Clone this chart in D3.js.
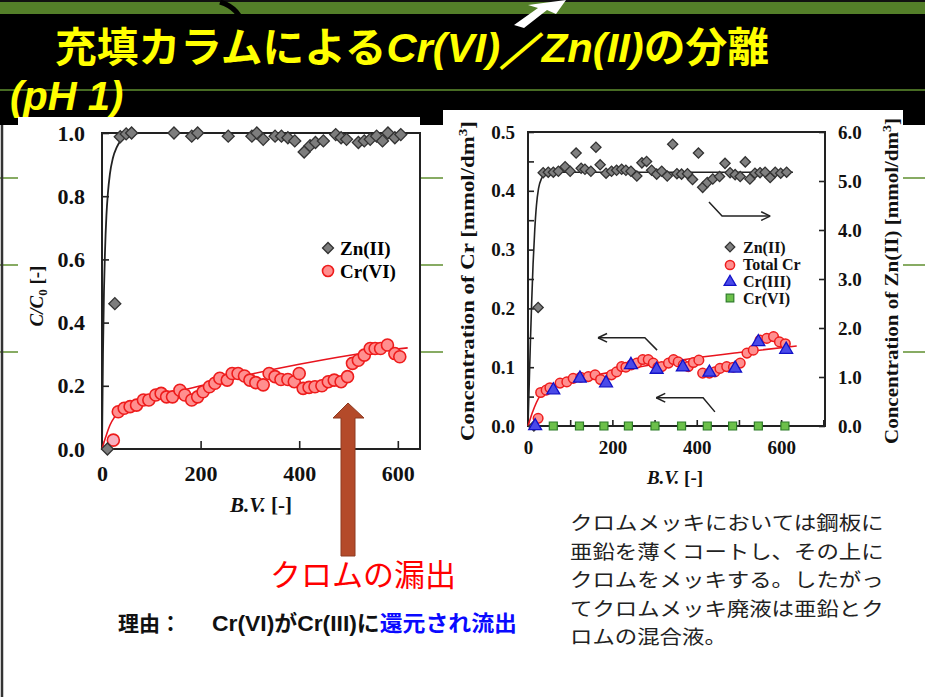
<!DOCTYPE html>
<html><head><meta charset="utf-8">
<script src="https://cdn.jsdelivr.net/npm/d3@7"></script>
<style>body{margin:0;background:#fff;}svg{display:block;}</style>
</head><body>
<script>
// ---------- Data ----------
// Left chart: C/C0 vs B.V.
const leftZnBV = [11, 26, 37, 49, 60, 146, 182, 194, 256, 304, 314, 327, 351, 364, 377, 391, 410, 422, 433, 449, 474, 485, 496, 520, 532, 544, 557, 569, 580, 594, 606];
const leftZnC  = [0, 0.46, 0.988, 0.997, 1.0, 1.0, 0.99, 1.0, 0.99, 0.99, 1.0, 0.98, 0.99, 0.99, 0.985, 0.975, 0.94, 0.96, 0.97, 0.975, 0.995, 0.985, 0.98, 0.97, 0.975, 0.98, 0.99, 0.975, 1.0, 0.985, 0.995];
const leftCrBV = [23, 33, 45, 57, 70, 84, 95, 109, 120, 131, 143, 158, 168, 182, 194, 205, 218, 229, 239, 254, 264, 276, 289, 300, 312, 327, 339, 351, 363, 377, 390, 400, 408, 420, 432, 446, 459, 471, 485, 498, 508, 520, 532, 544, 554, 565, 579, 594, 604];
const leftCrC  = [0.028, 0.118, 0.129, 0.134, 0.139, 0.155, 0.155, 0.171, 0.176, 0.165, 0.165, 0.186, 0.171, 0.155, 0.165, 0.181, 0.197, 0.208, 0.224, 0.218, 0.239, 0.239, 0.231, 0.218, 0.21, 0.203, 0.239, 0.229, 0.22, 0.22, 0.213, 0.239, 0.192, 0.195, 0.197, 0.2, 0.213, 0.218, 0.213, 0.229, 0.271, 0.281, 0.297, 0.318, 0.318, 0.318, 0.329, 0.302, 0.292];
const leftZnFit = [[0,0],[2,0.3],[4,0.5],[6,0.62],[9,0.74],[12,0.81],[16,0.87],[22,0.92],[30,0.955],[40,0.98],[55,0.995],[75,1.0],[645,1.0]];
const leftCrFit = [[0,0],[8,0.04],[16,0.075],[25,0.1],[35,0.118],[60,0.138],[100,0.158],[200,0.2],[300,0.236],[400,0.268],[500,0.296],[560,0.31],[620,0.32]];
const leftYTicks = [0, 0.2, 0.4, 0.6, 0.8, 1.0];
const leftXTicks = [0, 200, 400, 600];

// Right chart: concentrations vs B.V.
const rightZnBV = [14, 24, 36, 48, 60, 72, 88, 100, 114, 126, 135, 149, 161, 171, 185, 198, 210, 222, 232, 244, 258, 270, 281, 293, 305, 317, 330, 343, 353, 364, 378, 390, 404, 414, 425, 438, 454, 467, 479, 491, 503, 515, 526, 538, 550, 562, 574, 586, 599, 613];
const rightZnV  = [0, 2.42, 5.17, 5.18, 5.18, 5.2, 5.29, 5.2, 5.57, 5.26, 5.24, 5.2, 5.69, 5.33, 5.16, 5.2, 5.22, 5.24, 5.22, 5.2, 5.1, 5.37, 5.4, 5.22, 5.14, 5.2, 5.1, 5.75, 5.15, 5.14, 5.15, 5.03, 5.57, 4.87, 4.97, 5.04, 5.09, 5.36, 5.17, 5.13, 5.09, 5.39, 5.04, 5.16, 5.17, 5.18, 5.07, 5.18, 5.16, 5.18];
const rightTotBV = [24, 30, 43, 52, 76, 92, 107, 125, 143, 159, 172, 198, 210, 222, 232, 245, 258, 272, 285, 297, 308, 317, 333, 345, 356, 368, 380, 392, 405, 414, 430, 443, 455, 471, 487, 503, 519, 534, 550, 566, 582, 596, 610];
const rightTotV  = [0.013, 0.057, 0.061, 0.065, 0.073, 0.075, 0.081, 0.083, 0.084, 0.087, 0.079, 0.087, 0.092, 0.101, 0.1, 0.104, 0.107, 0.113, 0.113, 0.107, 0.1, 0.101, 0.107, 0.113, 0.109, 0.104, 0.101, 0.108, 0.112, 0.09, 0.09, 0.092, 0.098, 0.101, 0.1, 0.107, 0.124, 0.129, 0.146, 0.149, 0.152, 0.143, 0.14];
const rightCr3BV = [17, 60, 123, 185, 244, 305, 367, 430, 491, 546, 612];
const rightCr3V  = [0, 0.061, 0.081, 0.073, 0.104, 0.096, 0.1, 0.091, 0.098, 0.143, 0.13];
const rightCr6BV = [60, 122, 180, 238, 301, 364, 425, 485, 546, 609];
const rightCr6V  = [0, 0, 0, 0, 0, 0, 0, 0, 0, 0];
const rightZnFit = [[0,0],[3,0.9],[6,1.8],[9,2.6],[12,3.3],[16,4.0],[20,4.5],[25,4.85],[32,5.05],[42,5.15],[60,5.18],[628,5.18]];
const rightTotFit = [[0,0],[10,0.022],[20,0.04],[30,0.053],[45,0.063],[70,0.071],[100,0.077],[200,0.092],[300,0.105],[400,0.116],[500,0.125],[637,0.136]];
const rightLTicks = [0, 0.05, 0.1, 0.15, 0.2, 0.25, 0.3, 0.35, 0.4, 0.45, 0.5];
const rightRTicks = [0, 1, 2, 3, 4, 5, 6];
const rightXTicks = [0, 100, 200, 300, 400, 500, 600, 700];
const rightXLabels = [0, 200, 400, 600];
// annotation arrows (B.V., Cr conc.)
const arrowZn  = [[429,0.381],[460,0.357],[574,0.357]];
const arrowTot = [[306,0.129],[277,0.15],[166,0.15]];
const arrowCr6 = [[443,0.024],[415,0.048],[304,0.048]];

const bodyLines = ["クロムメッキにおいては鋼板に","亜鉛を薄くコートし、その上に","クロムをメッキする。したがっ","てクロムメッキ廃液は亜鉛とク","ロムの混合液。"];

// ---------- Drawing ----------
const W = 925, H = 697;
const svg = d3.select("body").append("svg").attr("width", W).attr("height", H);
const serif = "'Liberation Serif','Times New Roman',serif";
const jp = "'Noto Sans CJK JP','Noto Sans',sans-serif";

// slide background
svg.append("rect").attr("width", W).attr("height", H).attr("fill", "#fff");
svg.append("rect").attr("x", 0).attr("y", 12).attr("width", W).attr("height", 113).attr("fill", "#000");
svg.append("rect").attr("x", 0).attr("y", 0).attr("width", W).attr("height", 14).attr("fill", "#547f29");
svg.append("rect").attr("x", 0).attr("y", 0).attr("width", W).attr("height", 2).attr("fill", "#111");
svg.append("path").attr("d", "M220,2 Q240,8 243,27").attr("fill", "none").attr("stroke", "#000").attr("stroke-width", 5);
svg.append("path").attr("d", "M514,25 L538,8 L528,5 L566,0 L556,14 L547,10 L524,28 Z").attr("fill", "#fff");
// green rule lines
[90, 178, 265, 352].forEach(y => {
  svg.append("line").attr("x1", 0).attr("x2", W).attr("y1", y).attr("y2", y)
    .attr("stroke", "#5f8f2f").attr("stroke-width", 1.5);
});
svg.append("line").attr("x1", 2).attr("x2", 2).attr("y1", 125).attr("y2", H).attr("stroke", "#333").attr("stroke-width", 2.5);

// title
const t1 = svg.append("text").attr("x", 55).attr("y", 62).attr("fill", "#ffff00")
  .attr("font-family", jp).attr("font-weight", "bold").attr("font-size", 41)
  .attr("textLength", 714).attr("lengthAdjust", "spacingAndGlyphs");
t1.append("tspan").text("充填カラムによる");
t1.append("tspan").attr("font-style", "italic").attr("font-family", "'Liberation Sans',Arial,sans-serif").text("Cr(VI)／Zn(II)");
t1.append("tspan").text("の分離");
svg.append("text").attr("x", 10).attr("y", 110).attr("fill", "#ffff00")
  .attr("font-family", "'Liberation Sans',Arial,sans-serif").attr("font-weight", "bold")
  .attr("font-style", "italic").attr("font-size", 40).text("(pH 1)");

// chart image backgrounds
svg.append("rect").attr("x", 18).attr("y", 117).attr("width", 402).attr("height", 410).attr("fill", "#fff");
svg.append("rect").attr("x", 443).attr("y", 110).attr("width", 460).attr("height", 385).attr("fill", "#fff");

function diamond(g, x, y, s, fill, stroke) {
  g.append("path").attr("d", d3.symbol(d3.symbolSquare, s)())
    .attr("transform", `translate(${x},${y}) rotate(45)`)
    .attr("fill", fill).attr("stroke", stroke).attr("stroke-width", 1.3);
}
function styleAxis(g, fs) {
  g.select(".domain").remove();
  g.selectAll(".tick line").attr("stroke", "#222").attr("stroke-width", 1.6);
  g.selectAll(".tick text").attr("font-family", serif).attr("font-weight", "bold")
    .attr("font-size", fs).attr("fill", "#111");
}
function arrowHead(g, p0, p1) {
  const ang = Math.atan2(p1[1]-p0[1], p1[0]-p0[0]);
  const L = 10;
  [-0.45, 0.45].forEach(a => {
    g.append("line").attr("x1", p1[0]).attr("y1", p1[1])
      .attr("x2", p1[0] - L*Math.cos(ang+a)).attr("y2", p1[1] - L*Math.sin(ang+a))
      .attr("stroke", "#222").attr("stroke-width", 1.5);
  });
}

// ---------- Left chart ----------
{
  const g = svg.append("g");
  const x = d3.scaleLinear().domain([0, 645]).range([102, 420]);
  const y = d3.scaleLinear().domain([0, 1]).range([449, 133]);
  g.append("rect").attr("x", 102).attr("y", 133).attr("width", 318).attr("height", 316)
    .attr("fill", "none").attr("stroke", "#222").attr("stroke-width", 2);
  const ya = g.append("g").attr("transform", "translate(102,0)")
    .call(d3.axisLeft(y).tickValues(leftYTicks).tickSize(-7).tickPadding(17).tickFormat(d3.format(".1f")));
  styleAxis(ya, 22);
  const xa = g.append("g").attr("transform", "translate(0,449)")
    .call(d3.axisBottom(x).tickValues(leftXTicks).tickSize(-8).tickPadding(16).tickFormat(d3.format("d")));
  styleAxis(xa, 22);

  const line = d3.line().x(d => x(d[0])).y(d => y(d[1])).curve(d3.curveMonotoneX);
  g.append("path").attr("d", line(leftZnFit)).attr("fill", "none").attr("stroke", "#222").attr("stroke-width", 1.8);
  g.append("path").attr("d", line(leftCrFit)).attr("fill", "none").attr("stroke", "#e8141e").attr("stroke-width", 1.6);

  leftCrBV.forEach((b, i) => {
    g.append("circle").attr("cx", x(b)).attr("cy", y(leftCrC[i])).attr("r", 6)
      .attr("fill", i === 0 ? "#f7b0c0" : "#ff8f8f").attr("stroke", "#ee1c1c").attr("stroke-width", 1.6);
  });
  leftZnBV.forEach((b, i) => diamond(g, x(b), y(leftZnC[i]), 72, "#7d7d7d", "#333"));

  // legend
  diamond(g, 328, 248, 60, "#7d7d7d", "#333");
  g.append("text").attr("x", 340).attr("y", 255).attr("font-family", serif).attr("font-weight", "bold").attr("font-size", 19).text("Zn(II)");
  g.append("circle").attr("cx", 328).attr("cy", 271).attr("r", 5.5).attr("fill", "#ff8f8f").attr("stroke", "#ee1c1c").attr("stroke-width", 1.6);
  g.append("text").attr("x", 340).attr("y", 278).attr("font-family", serif).attr("font-weight", "bold").attr("font-size", 19).text("Cr(VI)");

  // axis titles
  const yt = g.append("text").attr("transform", "translate(43,296) rotate(-90)").attr("text-anchor", "middle")
    .attr("font-family", serif).attr("font-weight", "bold").attr("font-size", 19).attr("fill", "#111");
  yt.append("tspan").attr("font-style", "italic").text("C/C");
  yt.append("tspan").attr("font-size", 13).attr("dy", 4).text("0");
  yt.append("tspan").attr("dy", -4).text(" [-]");
  const xt = g.append("text").attr("x", 261).attr("y", 512).attr("text-anchor", "middle")
    .attr("font-family", serif).attr("font-weight", "bold").attr("font-size", 21).attr("fill", "#111");
  xt.append("tspan").attr("font-style", "italic").text("B.V.");
  xt.append("tspan").text(" [-]");
}

// ---------- Right chart ----------
{
  const g = svg.append("g");
  const x = d3.scaleLinear().domain([0, 704]).range([528, 825]);
  const yl = d3.scaleLinear().domain([0, 0.5]).range([426, 132]);
  const yr = d3.scaleLinear().domain([0, 6]).range([426, 132]);
  g.append("rect").attr("x", 528).attr("y", 132).attr("width", 297).attr("height", 294)
    .attr("fill", "none").attr("stroke", "#222").attr("stroke-width", 2);
  const la = g.append("g").attr("transform", "translate(528,0)")
    .call(d3.axisLeft(yl).tickValues(rightLTicks).tickSize(-6).tickPadding(13)
      .tickFormat(d => (Math.round(d*100) % 10 === 0) ? d.toFixed(1) : ""));
  styleAxis(la, 19);
  const ra = g.append("g").attr("transform", "translate(825,0)")
    .call(d3.axisRight(yr).tickValues(rightRTicks).tickSize(-6).tickPadding(13).tickFormat(d3.format(".1f")));
  styleAxis(ra, 19);
  const xa = g.append("g").attr("transform", "translate(0,426)")
    .call(d3.axisBottom(x).tickValues(rightXTicks).tickSize(-6).tickPadding(15)
      .tickFormat(d => rightXLabels.includes(d) ? d : ""));
  styleAxis(xa, 19);

  const lineL = d3.line().x(d => x(d[0])).y(d => yl(d[1])).curve(d3.curveMonotoneX);
  const lineR = d3.line().x(d => x(d[0])).y(d => yr(d[1])).curve(d3.curveMonotoneX);
  g.append("path").attr("d", lineR(rightZnFit)).attr("fill", "none").attr("stroke", "#222").attr("stroke-width", 1.6);
  g.append("path").attr("d", lineL(rightTotFit)).attr("fill", "none").attr("stroke", "#e8141e").attr("stroke-width", 1.6);

  rightZnBV.forEach((b, i) => diamond(g, x(b), yr(rightZnV[i]), 52, "#808080", "#333"));
  rightCr6BV.forEach((b, i) => {
    g.append("path").attr("d", d3.symbol(d3.symbolSquare, 64)()).attr("transform", `translate(${x(b)},${yl(rightCr6V[i])})`)
      .attr("fill", "#6cc04a").attr("stroke", "#2f7d2a").attr("stroke-width", 1.2);
  });
  rightTotBV.forEach((b, i) => {
    g.append("circle").attr("cx", x(b)).attr("cy", yl(rightTotV[i])).attr("r", 4.8)
      .attr("fill", "#ff8f8f").attr("stroke", "#ee1c1c").attr("stroke-width", 1.5);
  });
  rightCr3BV.forEach((b, i) => {
    g.append("path").attr("d", d3.symbol(d3.symbolTriangle, 72)()).attr("transform", `translate(${x(b)},${yl(rightCr3V[i])})`)
      .attr("fill", "#4a4ae8").attr("stroke", "#1212c8").attr("stroke-width", 1.3);
  });

  // annotation arrows
  [arrowZn, arrowTot, arrowCr6].forEach(a => {
    const pts = a.map(p => [x(p[0]), yl(p[1])]);
    g.append("path").attr("d", d3.line()(pts)).attr("fill", "none").attr("stroke", "#222").attr("stroke-width", 1.5);
    arrowHead(g, pts[pts.length-2], pts[pts.length-1]);
  });

  // legend
  const lx = 730, ltx = 743;
  const lf = () => g.append("text").attr("font-family", serif).attr("font-weight", "bold").attr("font-size", 16).attr("fill", "#111");
  diamond(g, lx, 247, 46, "#808080", "#333");
  lf().attr("x", ltx).attr("y", 253).text("Zn(II)");
  g.append("circle").attr("cx", lx).attr("cy", 265).attr("r", 4.6).attr("fill", "#ff8f8f").attr("stroke", "#ee1c1c").attr("stroke-width", 1.5);
  lf().attr("x", ltx).attr("y", 270).text("Total Cr");
  g.append("path").attr("d", d3.symbol(d3.symbolTriangle, 60)()).attr("transform", `translate(${lx},282)`)
    .attr("fill", "#4a4ae8").attr("stroke", "#1212c8").attr("stroke-width", 1.3);
  lf().attr("x", ltx).attr("y", 287).text("Cr(III)");
  g.append("path").attr("d", d3.symbol(d3.symbolSquare, 58)()).attr("transform", `translate(${lx},298)`)
    .attr("fill", "#6cc04a").attr("stroke", "#2f7d2a").attr("stroke-width", 1.2);
  lf().attr("x", ltx).attr("y", 304).text("Cr(VI)");

  // axis titles
  const lt = g.append("text").attr("transform", "translate(474,281) rotate(-90)").attr("text-anchor", "middle")
    .attr("font-family", serif).attr("font-weight", "bold").attr("font-size", 18).attr("fill", "#111")
    .attr("textLength", 320).attr("lengthAdjust", "spacingAndGlyphs");
  lt.append("tspan").text("Concentration of Cr [mmol/dm");
  lt.append("tspan").attr("font-size", 12).attr("dy", -7).text("3");
  lt.append("tspan").attr("dy", 7).text("]");
  const rt = g.append("text").attr("transform", "translate(898,281) rotate(-90)").attr("text-anchor", "middle")
    .attr("font-family", serif).attr("font-weight", "bold").attr("font-size", 18).attr("fill", "#111")
    .attr("textLength", 326).attr("lengthAdjust", "spacingAndGlyphs");
  rt.append("tspan").text("Concentration of Zn(II) [mmol/dm");
  rt.append("tspan").attr("font-size", 12).attr("dy", -7).text("3");
  rt.append("tspan").attr("dy", 7).text("]");
  const xt = g.append("text").attr("x", 675).attr("y", 484).attr("text-anchor", "middle")
    .attr("font-family", serif).attr("font-weight", "bold").attr("font-size", 19).attr("fill", "#111");
  xt.append("tspan").attr("font-style", "italic").text("B.V.");
  xt.append("tspan").text(" [-]");
}

// ---------- Big arrow & captions ----------
svg.append("path").attr("d", "M348,403 L364,418 L355,418 L355,556 L341,556 L341,418 L333,418 Z")
  .attr("fill", "#b44a2a").attr("stroke", "#8e3a20").attr("stroke-width", 1);
svg.append("text").attr("x", 270).attr("y", 586).attr("font-family", jp).attr("font-size", 31)
  .attr("fill", "#ff0000").text("クロムの漏出");
svg.append("text").attr("x", 118).attr("y", 631).attr("font-weight", "bold").attr("font-size", 21)
  .attr("font-family", jp).attr("fill", "#111").text("理由：");
const r2 = svg.append("text").attr("x", 212).attr("y", 631).attr("font-weight", "bold").attr("font-size", 22)
  .attr("font-family", "'Liberation Sans',Arial,'Noto Sans CJK JP',sans-serif").attr("fill", "#111")
  .attr("textLength", 305).attr("lengthAdjust", "spacingAndGlyphs");
r2.append("tspan").text("Cr(VI)がCr(III)に");
r2.append("tspan").attr("fill", "#0a0aff").attr("font-family", jp).text("還元され流出");

// paragraph: one text per line, glyphs kept to the reference width
svg.append("g").selectAll("text").data(bodyLines).join("text")
  .attr("x", 570).attr("y", (d, i) => 530 + i * 28.6)
  .attr("font-family", jp).attr("font-size", 19.6).attr("fill", "#222")
  .attr("textLength", d => d.length * 22.4).attr("lengthAdjust", "spacingAndGlyphs")
  .text(d => d);
</script>
</body></html>
